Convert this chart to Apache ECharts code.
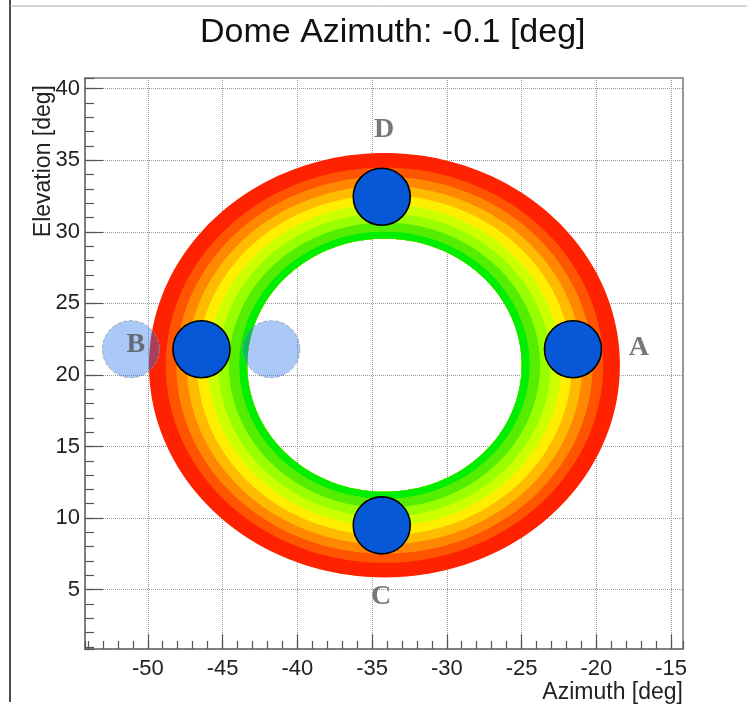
<!DOCTYPE html>
<html><head><meta charset="utf-8">
<script src="https://cdn.jsdelivr.net/npm/echarts@6/dist/echarts.min.js"></script>
<style>html,body{margin:0;padding:0;background:#fff;}#c{width:747px;height:721px;}</style>
</head><body><div id="c"></div>
<script>
// ---- data ----
const titleText = 'Dome Azimuth: -0.1 [deg]';
const xTitle = 'Azimuth [deg]';
const yTitle = 'Elevation [deg]';
const azRange = [-54.2, -14.2];
const elRange = [0.85, 40.75];
const ringCenter = [-34.17, 20.68];
// band colours from inner edge to outer edge
const bandColors = ['#00ee00', '#55ee00', '#99ff00', '#ccff00', '#ffee00', '#ffbb00', '#ff8800', '#ff5500', '#ff2200'];
// band edge semi-axes (deg), inner hole edge first
const edgeAz = [9.18, 9.71, 10.41, 11.11, 11.81, 12.52, 13.22, 13.92, 14.63, 15.75];
const edgeEl = [8.85, 9.33, 9.97, 10.61, 11.25, 11.89, 12.53, 13.17, 13.81, 14.83];
const sensorAz = [-21.56, -46.41, -34.35, -34.35];
const sensorEl = [21.8, 21.8, 9.49, 32.45];
const ghostAz = [-51.13, -41.74];
const ghostEl = [21.8, 21.8];
const labelNames = ['A', 'B', 'C', 'D'];
const labelAz = [-17.15, -50.8, -34.4, -34.2];
const labelEl = [21.87, 22.08, 4.53, 37.1];

// ---- chart ----
const chart = echarts.init(document.getElementById('c'), null, {renderer: 'canvas'});

function ringPath(api, ai, ao) {
  const N = 200;
  const outer = [], inner = [];
  for (let k = 0; k < N; k++) {
    const t = 2 * Math.PI * k / N;
    const po = api.coord([ringCenter[0] + edgeAz[ao] * Math.cos(t), ringCenter[1] + edgeEl[ao] * Math.sin(t)]);
    const pi = api.coord([ringCenter[0] + edgeAz[ai] * Math.cos(-t), ringCenter[1] + edgeEl[ai] * Math.sin(-t)]);
    outer.push(po[0].toFixed(2) + ' ' + po[1].toFixed(2));
    inner.push(pi[0].toFixed(2) + ' ' + pi[1].toFixed(2));
  }
  return 'M ' + outer.join(' L ') + ' Z M ' + inner.join(' L ') + ' Z';
}

const bandData = bandColors.map((c, i) => [ringCenter[0], ringCenter[1], i]).reverse();

const tickFont = {fontFamily: 'Liberation Sans', fontSize: 22, color: '#222'};

const option = {
  animation: false,
  backgroundColor: '#fff',
  title: {
    text: titleText, left: 195, top: 11,
    textStyle: {fontFamily: 'Liberation Sans', fontSize: 34, fontWeight: 'normal', color: '#111'}
  },
  grid: {left: 85, top: 78, width: 598, height: 571, containLabel: false, outerBoundsMode: 'none',
    show: true, borderColor: '#777', borderWidth: 1.5, backgroundColor: 'transparent'},
  xAxis: [{
    type: 'value', min: azRange[0], max: azRange[1], splitNumber: 8, position: 'bottom',
    name: xTitle, nameLocation: 'end', nameGap: 0, nameMoveOverlap: false,
    nameTextStyle: {fontFamily: 'Liberation Sans', fontSize: 23, color: '#222', align: 'right', verticalAlign: 'top', padding: [32, 0, 0, 0]},
    axisLine: {show: true, lineStyle: {color: '#777', width: 1.5}},
    axisTick: {show: true, inside: true, length: 15, lineStyle: {color: '#555', width: 1.2}},
    axisLabel: Object.assign({margin: 9, showMinLabel: false, showMaxLabel: false}, tickFont),
    splitLine: {show: true, lineStyle: {type: 'dotted', color: '#999', width: 1}}
  }, {
    type: 'value', min: azRange[0], max: azRange[1], splitNumber: 40, position: 'bottom',
    axisLine: {show: false}, axisLabel: {show: false}, splitLine: {show: false},
    axisTick: {show: true, inside: true, length: 8, lineStyle: {color: '#555', width: 1.2}}
  }],
  yAxis: [{
    type: 'value', min: elRange[0], max: elRange[1], splitNumber: 8, position: 'left',
    name: yTitle, nameLocation: 'end', nameGap: -7, nameRotate: 90, nameMoveOverlap: false,
    nameTextStyle: {fontFamily: 'Liberation Sans', fontSize: 23, color: '#222', align: 'right', verticalAlign: 'bottom', padding: [0, 0, 30, 0]},
    axisLine: {show: true, lineStyle: {color: '#777', width: 1.5}},
    axisTick: {show: true, inside: true, length: 18, lineStyle: {color: '#555', width: 1.2}},
    axisLabel: Object.assign({margin: 5, showMinLabel: false, showMaxLabel: false}, tickFont),
    splitLine: {show: true, lineStyle: {type: 'dotted', color: '#999', width: 1}}
  }, {
    type: 'value', min: elRange[0], max: elRange[1], splitNumber: 40, position: 'left',
    axisLine: {show: false}, axisLabel: {show: false}, splitLine: {show: false},
    axisTick: {show: true, inside: true, length: 9, lineStyle: {color: '#555', width: 1.2}}
  }],
  series: [{
    type: 'custom', name: 'ring', xAxisIndex: 0, yAxisIndex: 0, z: 2,
    data: bandData,
    renderItem: function (params, api) {
      const i = api.value(2);
      return {type: 'path', shape: {pathData: ringPath(api, 0, i + 1)}, style: {fill: bandColors[i], stroke: null}};
    }
  }, {
    type: 'scatter', name: 'ghost', z: 3, symbol: 'circle', symbolSize: 57,
    data: ghostAz.map((a, i) => [a, ghostEl[i]]),
    itemStyle: {color: 'rgba(30,112,238,0.47)', borderColor: '#999', borderType: 'dashed', borderWidth: 1},
    emphasis: {disabled: true}
  }, {
    type: 'scatter', name: 'sensors', z: 4, symbol: 'circle', symbolSize: 57,
    data: sensorAz.map((a, i) => [a, sensorEl[i]]),
    itemStyle: {color: '#0758d6', borderColor: '#000', borderWidth: 1.6, opacity: 1},
    emphasis: {disabled: true}
  }, {
    type: 'scatter', name: 'labels', z: 5, symbolSize: 0,
    data: labelAz.map((a, i) => ({value: [a, labelEl[i]], name: labelNames[i]})),
    label: {show: true, position: 'inside', formatter: p => p.name, fontFamily: 'Liberation Serif', fontWeight: 'bold', fontSize: 28, color: '#555'},
    emphasis: {disabled: true}
  }],
  graphic: [
    {type: 'line', shape: {x1: 10, y1: 0, x2: 10, y2: 702}, style: {stroke: '#111', lineWidth: 1.5}, silent: true},
    {type: 'line', shape: {x1: 10, y1: 6, x2: 747, y2: 6}, style: {stroke: '#aaa', lineWidth: 1}, silent: true}
  ]
};
chart.setOption(option);
</script>
</body></html>
